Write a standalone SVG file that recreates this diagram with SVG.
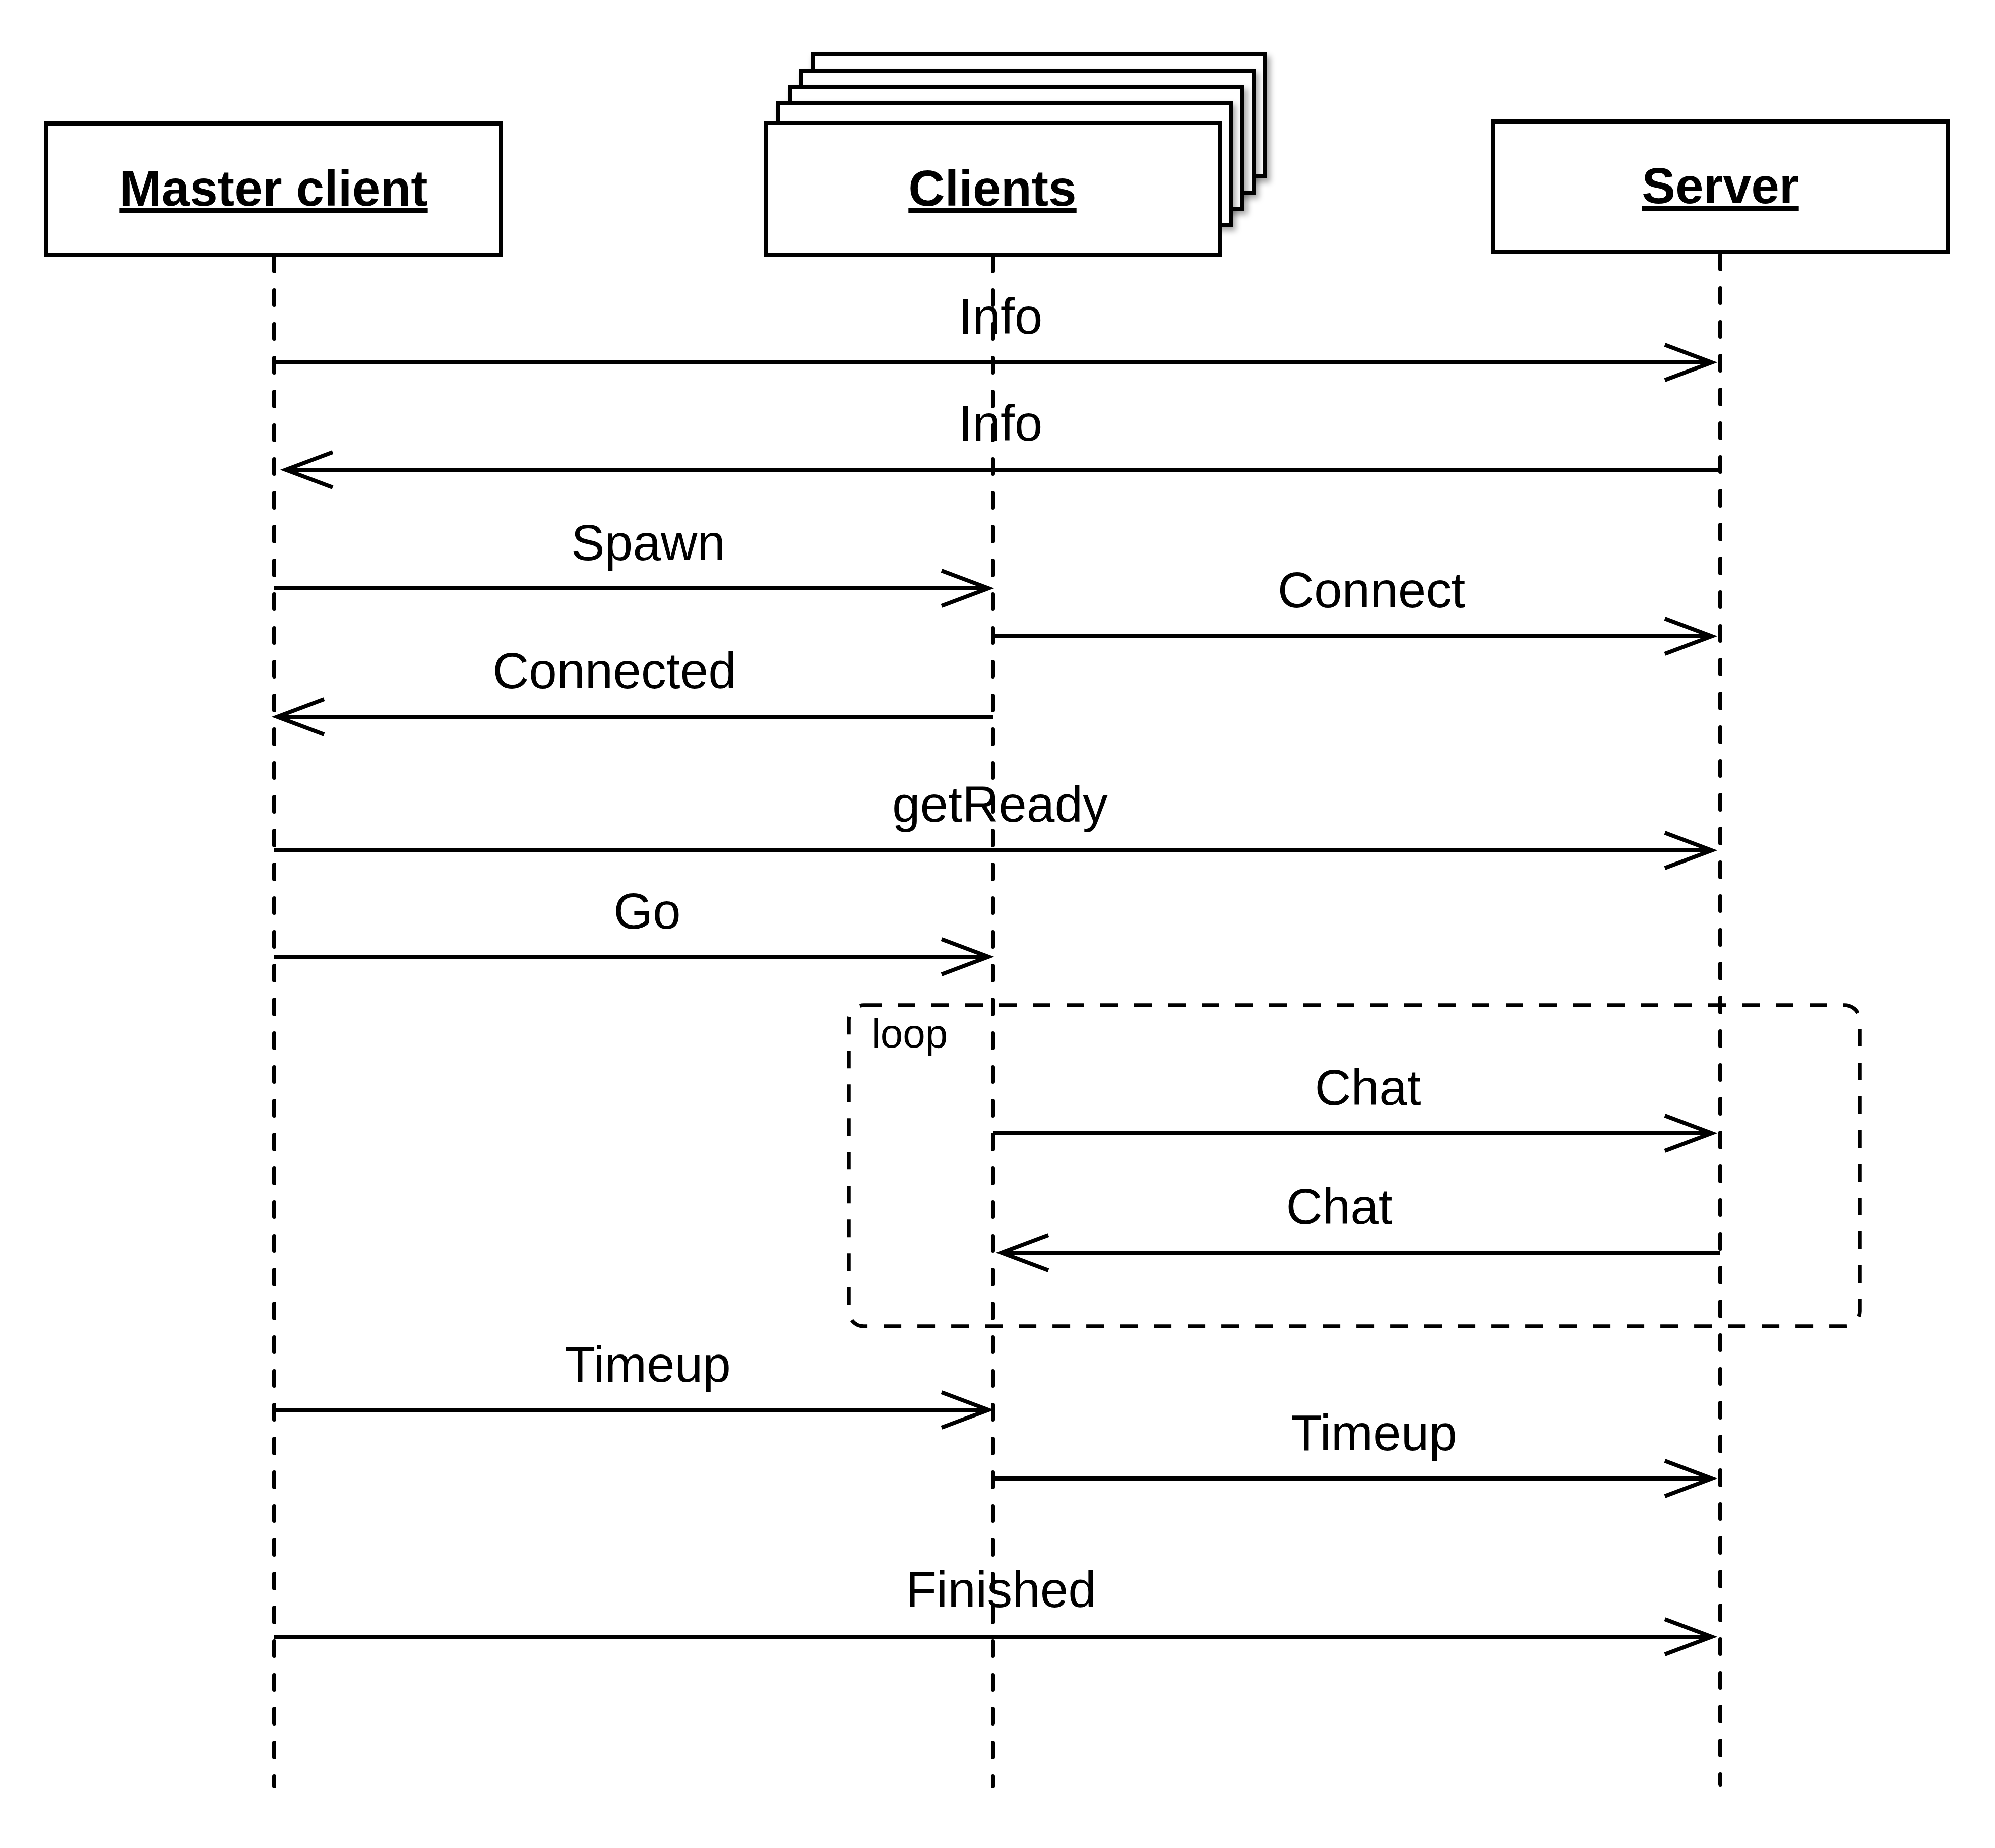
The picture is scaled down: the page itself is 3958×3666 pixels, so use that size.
<svg xmlns="http://www.w3.org/2000/svg" width="3958" height="3666" viewBox="0 0 3958 3666">
<style>
.box{fill:#fff;stroke:#000;stroke-width:8}
.title{font-family:"Liberation Sans",Arial,Helvetica,sans-serif;font-size:100px;font-weight:bold;text-anchor:middle;text-decoration:underline}
.lbl{font-family:"Liberation Sans",Arial,Helvetica,sans-serif;font-size:100px;text-anchor:middle;fill:#000}
.life{stroke:#000;stroke-width:8;stroke-dasharray:29 38;stroke-linecap:round;fill:none}
.msg{stroke:#000;stroke-width:8;fill:none;marker-end:url(#open)}
.frame{fill:none;stroke:#000;stroke-width:7.5;stroke-dasharray:35 32}
</style>
<defs>
<marker id="open" markerUnits="userSpaceOnUse" orient="auto" refX="0" refY="0" markerWidth="300" markerHeight="300" viewBox="-150 -150 300 300" overflow="visible">
<path d="M-93,-35 L0,0 L-93,35" fill="none" stroke="#000" stroke-width="8" stroke-linejoin="miter"/>
</marker>
<filter id="sh" x="-10%" y="-10%" width="130%" height="140%">
<feDropShadow dx="6" dy="8" stdDeviation="6" flood-color="#000" flood-opacity="0.35"/>
</filter>
</defs>
<rect width="3958" height="3666" fill="#fff"/>

<g id="lifelines">
<line class="life" x1="544" y1="509" x2="544" y2="3543"/>
<line class="life" x1="1970" y1="509" x2="1970" y2="3543"/>
<line class="life" x1="3413" y1="505" x2="3413" y2="3540"/>
</g>

<g id="master-client">
<rect class="box" x="92" y="245" width="902" height="260"/>
<text class="title" x="543" y="408">Master client</text>
</g>

<g id="clients">
<rect class="box" x="1612" y="108" width="898" height="242" filter="url(#sh)"/>
<rect class="box" x="1589" y="140" width="898" height="242" filter="url(#sh)"/>
<rect class="box" x="1567" y="172" width="898" height="242" filter="url(#sh)"/>
<rect class="box" x="1544" y="204" width="898" height="242" filter="url(#sh)"/>
<rect class="box" x="1519" y="244" width="901" height="261"/>
<text class="title" x="1969" y="408">Clients</text>
</g>

<g id="server">
<rect class="box" x="2962" y="241" width="902" height="258"/>
<text class="title" x="3413" y="403">Server</text>
</g>

<g id="loop-frame">
<rect class="frame" x="1684" y="1994" width="2006" height="637" rx="30" ry="30"/>
<text x="1729" y="2078" font-family="'Liberation Sans',Arial,Helvetica,sans-serif" font-size="80">loop</text>
</g>

<g id="connectors">
<line class="msg" x1="544" y1="719" x2="3396" y2="719"/>
<line class="msg" x1="3413" y1="932" x2="567" y2="932"/>
<line class="msg" x1="544" y1="1167" x2="1961" y2="1167"/>
<line class="msg" x1="1970" y1="1262" x2="3396" y2="1262"/>
<line class="msg" x1="1970" y1="1422" x2="550" y2="1422"/>
<line class="msg" x1="544" y1="1687" x2="3396" y2="1687"/>
<line class="msg" x1="544" y1="1898" x2="1961" y2="1898"/>
<line class="msg" x1="1970" y1="2248" x2="3396" y2="2248"/>
<line class="msg" x1="3413" y1="2485" x2="1987" y2="2485"/>
<line class="msg" x1="544" y1="2797" x2="1961" y2="2797"/>
<line class="msg" x1="1970" y1="2933" x2="3396" y2="2933"/>
<line class="msg" x1="544" y1="3247" x2="3396" y2="3247"/>
</g>

<g id="labels">
<text class="lbl" x="1985" y="662">Info</text>
<text class="lbl" x="1985" y="874">Info</text>
<text class="lbl" x="1286" y="1111">Spawn</text>
<text class="lbl" x="2721" y="1205">Connect</text>
<text class="lbl" x="1219" y="1365">Connected</text>
<text class="lbl" x="1984" y="1630">getReady</text>
<text class="lbl" x="1284" y="1842">Go</text>
<text class="lbl" x="2714" y="2192">Chat</text>
<text class="lbl" x="2657" y="2428">Chat</text>
<text class="lbl" x="1285" y="2741">Timeup</text>
<text class="lbl" x="2726" y="2877">Timeup</text>
<text class="lbl" x="1986" y="3188">Finished</text>
</g>
</svg>
